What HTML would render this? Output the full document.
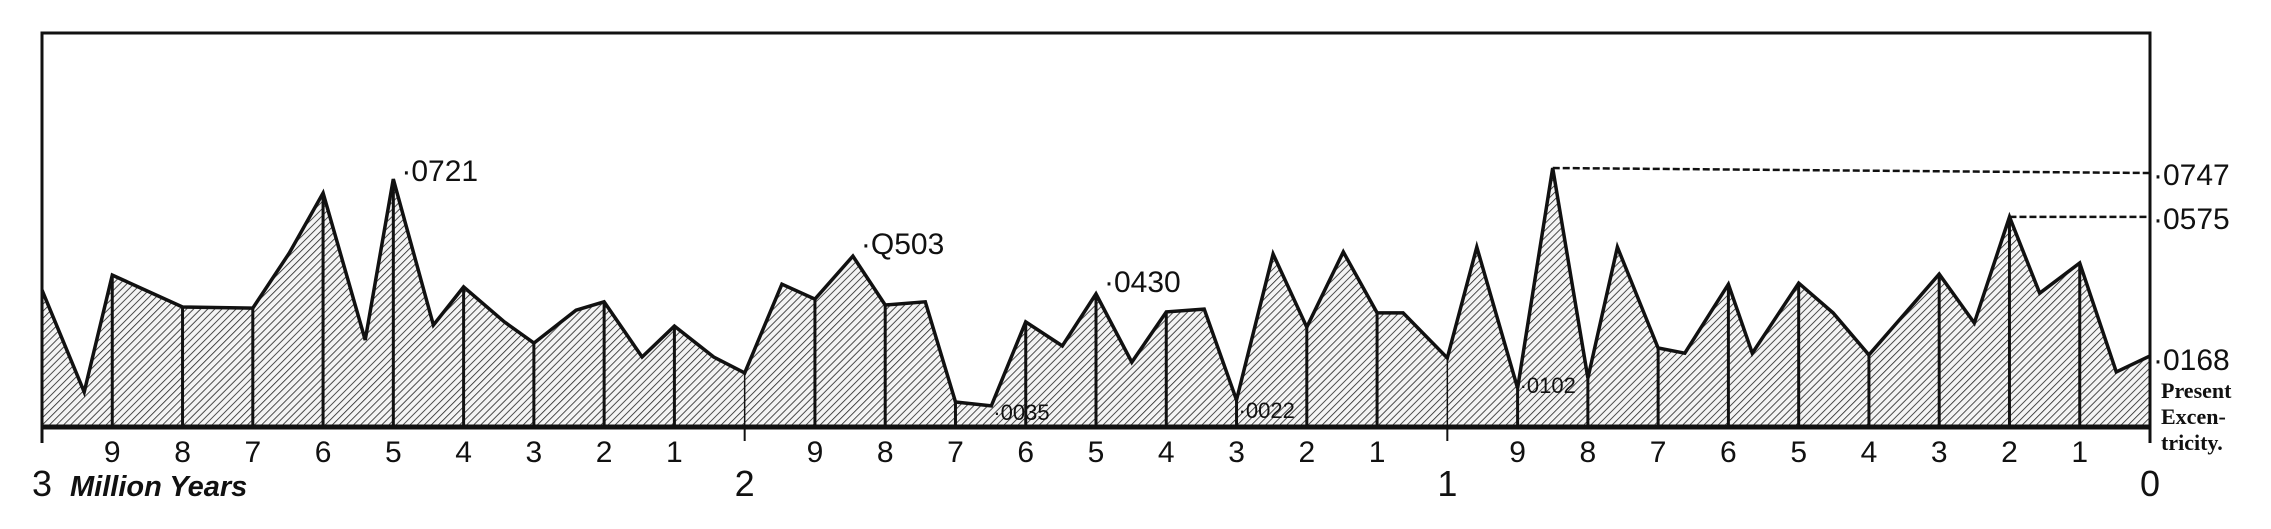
<!DOCTYPE html>
<html><head><meta charset="utf-8"><style>
html,body{margin:0;padding:0;background:#fff;width:2271px;height:529px;overflow:hidden}
svg{display:block}
text{font-family:"Liberation Sans",sans-serif;fill:#111}
</style></head><body>
<svg id="chart" width="2271" height="529" viewBox="0 0 2271 529" xmlns="http://www.w3.org/2000/svg">
<defs>
<pattern id="hatch" patternUnits="userSpaceOnUse" width="5" height="5" patternTransform="rotate(45)">
<rect width="5" height="5" fill="#f4f4f4"/>
<line x1="0" y1="0" x2="0" y2="5" stroke="#222" stroke-width="1.6"/>
</pattern>
</defs>
<g id="plot"></g>
</svg>
<script>
// ages in million years before present
const ages = [3.0,2.94,2.9,2.8,2.7,2.648,2.6,2.54,2.5,2.443,2.4,2.342,2.3,2.24,2.2,2.146,2.1,2.044,2.0,1.947,1.9,1.846,1.8,1.743,1.7,1.649,1.6,1.548,1.5,1.449,1.4,1.346,1.3,1.248,1.2,1.148,1.1,1.063,1.0,0.958,0.9,0.85,0.8,0.758,0.7,0.662,0.6,0.566,0.5,0.451,0.4,0.3,0.25,0.2,0.157,0.1,0.048,0.0];
const eccentricity = [0.0395,0.0101,0.0438,0.0346,0.0343,0.0502,0.0675,0.0251,0.0715,0.0294,0.0404,0.0303,0.0242,0.0337,0.0361,0.0202,0.0291,0.0202,0.0156,0.0412,0.0369,0.0493,0.0352,0.0361,0.0072,0.0061,0.0303,0.0234,0.0384,0.0187,0.0332,0.0340,0.0078,0.0499,0.0288,0.0505,0.0329,0.0329,0.0199,0.0519,0.0112,0.0747,0.0141,0.0519,0.0228,0.0213,0.0412,0.0213,0.0415,0.0329,0.0208,0.0441,0.0300,0.0606,0.0386,0.0473,0.0159,0.0205];
const tickLabels = ["","9","8","7","6","5","4","3","2","1","","9","8","7","6","5","4","3","2","1","","9","8","7","6","5","4","3","2","1",""];
const millionLabels = ["3","2","1","0"];
const peakLabels = ["·0721","·Q503","·0430","·0035","·0022","·0102"];
const peakAges = [2.5,1.846,1.5,1.649,1.3,0.9];
const peakSmall = [false,false,false,true,true,true];

const L=42,R=2150,T=33,B=427;
const x = t => R - t*(R-L)/3;
const y = v => B - v*3467;
const NS="http://www.w3.org/2000/svg";
const g=document.getElementById('plot');
function mk(tag,attrs){const e=document.createElementNS(NS,tag);for(const k in attrs)e.setAttribute(k,attrs[k]);g.appendChild(e);return e;}
function valAt(t){for(let i=0;i<ages.length-1;i++){const a=ages[i],b=ages[i+1];if(t<=a&&t>=b){const f=(a-t)/(a-b||1);return eccentricity[i]+f*(eccentricity[i+1]-eccentricity[i]);}}return 0;}

let pts=ages.map((a,i)=>x(a).toFixed(1)+','+y(eccentricity[i]).toFixed(1)).join(' ');
let area=mk('polygon',{points:x(ages[0])+','+B+' '+pts+' '+x(ages[ages.length-1])+','+B,fill:'url(#hatch)',stroke:'none'});



for(let i=1;i<30;i++){const t=3-i*0.1;const xx=x(t);
 const v=mk('line',{x1:xx,y1:B,x2:xx,y2:y(valAt(t)),stroke:'#111','stroke-width':(i%10===0)?1.5:3});
 
 
 if(i%10===0){const tk=mk('line',{x1:xx,y1:B,x2:xx,y2:B+14,stroke:'#111','stroke-width':2});
  
  }
 if(tickLabels[i]){const tx=mk('text',{x:xx,y:462,'text-anchor':'middle','font-size':30});tx.textContent=tickLabels[i];
  
  }
}
let line=mk('polyline',{points:pts,fill:'none',stroke:'#111','stroke-width':3.5,'stroke-linejoin':'miter'});



// frame
let fr=mk('path',{d:`M${L},${B+16} L${L},${T} L${R},${T} L${R},${B+16}`,fill:'none',stroke:'#111','stroke-width':3});


let base=mk('line',{x1:L,y1:B,x2:R,y2:B,stroke:'#111','stroke-width':5});



// dashed reference lines
const maxI=eccentricity.indexOf(Math.max(...eccentricity));
let d1=mk('path',{d:`M${x(ages[maxI])},${y(eccentricity[maxI])} L${R},${y(eccentricity[maxI])+5}`,fill:'none',stroke:'#111','stroke-width':2.5,'stroke-dasharray':'7 3'});


let i2=ages.indexOf(0.2);
let d2=mk('path',{d:`M${x(0.2)},${y(eccentricity[i2])} L${R},${y(eccentricity[i2])}`,fill:'none',stroke:'#111','stroke-width':2.5,'stroke-dasharray':'7 3'});



// right labels
[["·0747",y(eccentricity[maxI])+17],["·0575",y(eccentricity[i2])+12],["·0168",y(eccentricity[eccentricity.length-1])+14]].forEach(([s,yy])=>{
 const t=mk('text',{x:R+3,y:yy,'font-size':30});t.textContent=s;
 
 });
["Present","Excen-","tricity."].forEach((s,i)=>{
 const t=mk('text',{x:R+11,y:398+i*26,'font-size':22,'font-family':'Liberation Serif, serif','font-weight':'bold'});
 t.setAttribute('style','font-family:"Liberation Serif",serif');
 t.textContent=s;
 
 });

// peak labels
peakLabels.forEach((s,i)=>{const a=peakAges[i];const yi=ages.indexOf(a);
 const small=peakSmall[i];
 const t=mk('text',{x:x(a)+(small?2:8),y:small?y(eccentricity[yi])+ (i===3?14:i===4?18:5):y(eccentricity[yi])+(i===0?2:-2),'font-size':small?22:30});
 t.textContent=s;
 
 });

// million labels
millionLabels.forEach((s,i)=>{const xx=x(3-i);
 const t=mk('text',{x:i===0?L-10:xx,y:496,'font-size':36,'text-anchor':i===0?'start':'middle'});
 t.textContent=s;
 
 });
let my=mk('text',{x:70,y:496,'font-size':29,'font-style':'italic','font-weight':'bold'});
my.textContent="Million Years";


</script>
</body></html>
